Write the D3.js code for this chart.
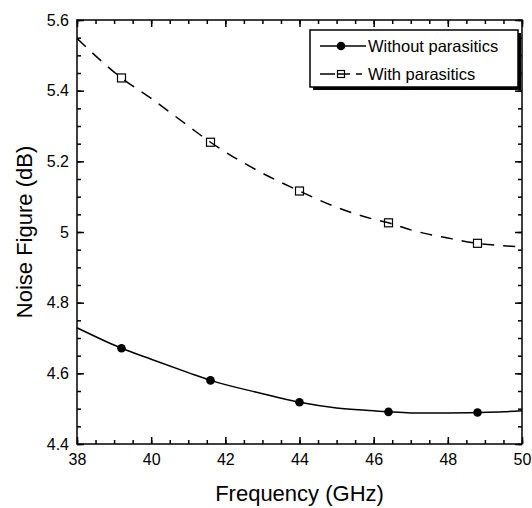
<!DOCTYPE html>
<html>
<head>
<meta charset="utf-8">
<script src="https://cdn.jsdelivr.net/npm/d3@7"></script>
<style>
  body { margin: 0; background: #fff; }
  svg { font-family: "Liberation Sans", Arial, Helvetica, sans-serif; }
  .axis path, .axis line { stroke: #000; stroke-width: 1.5; }
  .axis text { font-size: 16px; fill: #000; }
  .label { font-size: 22px; fill: #000; }
  .legend text { font-size: 16.5px; fill: #000; }
</style>
</head>
<body>
<div class="graph"></div>
<script>
// marker positions (GHz)
var freqs = [39.2, 41.6, 44.0, 46.4, 48.8];
var noParasitics = [4.671, 4.580, 4.518, 4.491, 4.489];
var withParasitics = [5.436, 5.254, 5.116, 5.026, 4.968];

// simulated curves
var curveFreq = [38, 39.2, 40, 41, 41.6, 42.9, 44, 45, 46, 46.4, 47, 48, 48.8, 49.5, 50];
var curveNo   = [4.729, 4.671, 4.640, 4.602, 4.580, 4.545, 4.518, 4.502, 4.494, 4.491, 4.488, 4.488, 4.489, 4.491, 4.494];
var curveWith = [5.548, 5.436, 5.378, 5.300, 5.254, 5.172, 5.116, 5.070, 5.036, 5.026, 5.006, 4.983, 4.968, 4.961, 4.958];

var xTicks = [38, 40, 42, 44, 46, 48, 50];
var yTicks = [4.4, 4.6, 4.8, 5, 5.2, 5.4, 5.6];
var seriesNames = ["Without parasitics", "With parasitics"];

var margin = {top: 20, right: 10, bottom: 64, left: 77},
    width = 532 - margin.left - margin.right,
    height = 508 - margin.top - margin.bottom;

var x = d3.scaleLinear().domain([38, 50]).range([0, width]);
var y = d3.scaleLinear().domain([4.4, 5.6]).range([height, 0]);

var xMinor = d3.range(38, 50.01, 0.5);
var yMinor = d3.range(4.4, 5.601, 0.05);

var svg = d3.select(".graph").append("svg")
    .attr("width", 532)
    .attr("height", 508)
  .append("g")
    .attr("transform", "translate(" + margin.left + "," + margin.top + ")");

// minor ticks on all four sides
svg.append("g").attr("class", "axis").attr("transform", "translate(0," + height + ")")
    .call(d3.axisBottom(x).tickValues(xMinor).tickSizeInner(-4).tickSizeOuter(0).tickFormat(""));
svg.append("g").attr("class", "axis")
    .call(d3.axisTop(x).tickValues(xMinor).tickSizeInner(-4).tickSizeOuter(0).tickFormat(""));
svg.append("g").attr("class", "axis")
    .call(d3.axisLeft(y).tickValues(yMinor).tickSizeInner(-4).tickSizeOuter(0).tickFormat(""));
svg.append("g").attr("class", "axis").attr("transform", "translate(" + width + ",0)")
    .call(d3.axisRight(y).tickValues(yMinor).tickSizeInner(-4).tickSizeOuter(0).tickFormat(""));

// major ticks
svg.append("g").attr("class", "x axis").attr("transform", "translate(0," + height + ")")
    .call(d3.axisBottom(x).tickValues(xTicks).tickSizeInner(-7).tickSizeOuter(0).tickPadding(10).tickFormat(d3.format("d")));
svg.append("g").attr("class", "axis")
    .call(d3.axisTop(x).tickValues(xTicks).tickSizeInner(-7).tickSizeOuter(0).tickFormat(""));
svg.append("g").attr("class", "y axis")
    .call(d3.axisLeft(y).tickValues(yTicks).tickSizeInner(-7).tickSizeOuter(0).tickPadding(8).tickFormat(function(d) { return String(d); }));
svg.append("g").attr("class", "axis").attr("transform", "translate(" + width + ",0)")
    .call(d3.axisRight(y).tickValues(yTicks).tickSizeInner(-7).tickSizeOuter(0).tickFormat(""));

svg.selectAll(".axis .domain").remove();
svg.append("rect")
    .attr("width", width).attr("height", height)
    .attr("fill", "none").attr("stroke", "#000").attr("stroke-width", 1.5);

// axis titles
svg.append("text")
    .attr("class", "label")
    .attr("x", width / 2)
    .attr("y", height + 57)
    .attr("text-anchor", "middle")
    .text("Frequency (GHz)");

svg.append("text")
    .attr("class", "label")
    .attr("transform", "translate(-45," + (height / 2) + ") rotate(-90)")
    .attr("text-anchor", "middle")
    .text("Noise Figure (dB)");

// curves
var line = d3.line()
    .x(function(d) { return x(d[0]); })
    .y(function(d) { return y(d[1]); })
    .curve(d3.curveMonotoneX);

svg.append("path")
    .datum(d3.zip(curveFreq, curveNo))
    .attr("d", line)
    .attr("fill", "none").attr("stroke", "#000").attr("stroke-width", 1.5);

svg.append("path")
    .datum(d3.zip(curveFreq, curveWith))
    .attr("d", line)
    .attr("fill", "none").attr("stroke", "#000").attr("stroke-width", 1.5)
    .attr("stroke-dasharray", "12,9");

// markers
svg.selectAll(".dot")
    .data(d3.zip(freqs, noParasitics))
  .enter().append("circle")
    .attr("class", "dot")
    .attr("cx", function(d) { return x(d[0]); })
    .attr("cy", function(d) { return y(d[1]); })
    .attr("r", 4.3)
    .attr("fill", "#000");

svg.selectAll(".sq")
    .data(d3.zip(freqs, withParasitics))
  .enter().append("rect")
    .attr("class", "sq")
    .attr("x", function(d) { return x(d[0]) - 4; })
    .attr("y", function(d) { return y(d[1]) - 4; })
    .attr("width", 8).attr("height", 8)
    .attr("fill", "none").attr("stroke", "#000").attr("stroke-width", 1.2);

// legend
var legend = svg.append("g").attr("class", "legend")
    .attr("transform", "translate(" + (310 - margin.left) + "," + (30 - margin.top) + ")");

legend.append("rect")
    .attr("x", 3).attr("y", 3).attr("width", 208).attr("height", 57)
    .attr("fill", "#000");
legend.append("rect")
    .attr("x", 0).attr("y", 0).attr("width", 208).attr("height", 57)
    .attr("fill", "#fff").attr("stroke", "#000").attr("stroke-width", 1.5);

legend.append("line")
    .attr("x1", 10).attr("x2", 56).attr("y1", 16).attr("y2", 16)
    .attr("stroke", "#000").attr("stroke-width", 1.5);
legend.append("circle")
    .attr("cx", 31).attr("cy", 16).attr("r", 4.3).attr("fill", "#000");

legend.append("line")
    .attr("x1", 10).attr("x2", 52).attr("y1", 44).attr("y2", 44)
    .attr("stroke", "#000").attr("stroke-width", 1.5)
    .attr("stroke-dasharray", "15,2,13,6,6");
legend.append("rect")
    .attr("x", 27.5).attr("y", 40.5).attr("width", 7).attr("height", 7)
    .attr("fill", "none").attr("stroke", "#000").attr("stroke-width", 1.2);

legend.selectAll("text")
    .data(seriesNames)
  .enter().append("text")
    .attr("x", 58)
    .attr("y", function(d, i) { return 16 + i * 28; })
    .attr("dy", ".35em")
    .text(function(d) { return d; });
</script>
</body>
</html>
